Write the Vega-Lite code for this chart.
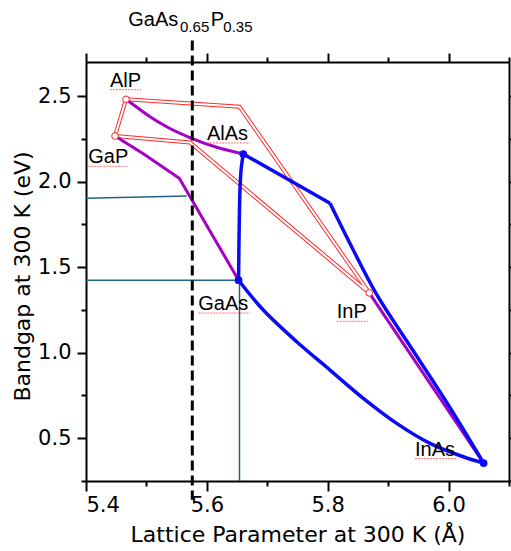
{
  "$schema": "https://vega.github.io/schema/vega-lite/v6.json",
  "width": 423,
  "height": 419,
  "autosize": {"type": "none"},
  "padding": {"left": 86, "top": 62, "right": 2, "bottom": 70},
  "background": "white",
  "datasets": {
    "redEdges": [
      {"s": "top", "i": 0, "a": 5.4662, "eg": 2.482},
      {"s": "top", "i": 1, "a": 5.654, "eg": 2.4386},
      {"s": "top", "i": 2, "a": 5.8687, "eg": 1.35},
      {"s": "low", "i": 0, "a": 5.448, "eg": 2.2673},
      {"s": "low", "i": 1, "a": 5.5721, "eg": 2.2292},
      {"s": "low", "i": 2, "a": 5.8687, "eg": 1.35},
      {"s": "left", "i": 0, "a": 5.4662, "eg": 2.482},
      {"s": "left", "i": 1, "a": 5.448, "eg": 2.2673}
    ],
    "labels": [
      {"t": "AlP", "a": 5.4397, "a2": 5.491, "eg": 2.5556},
      {"t": "GaP", "a": 5.4038, "a2": 5.4699, "eg": 2.1076},
      {"t": "AlAs", "a": 5.6002, "a2": 5.6714, "eg": 2.2439},
      {"t": "GaAs", "a": 5.5858, "a2": 5.6714, "eg": 1.2497},
      {"t": "InP", "a": 5.8149, "a2": 5.8671, "eg": 1.2012},
      {"t": "InAs", "a": 5.9444, "a2": 6.0134, "eg": 0.3982}
    ]
  },
  "layer": [
    {
      "layer": [
        {
          "data": {"name": "redEdges"},
          "mark": {"type": "line", "color": "#ff2a2a", "strokeWidth": 4},
          "encoding": {
            "x": {
              "field": "a", "type": "quantitative",
              "scale": {"domain": [5.4, 6.1], "nice": false, "zero": false},
              "axis": {
                "orient": "bottom",
                "values": [5.4, 5.5, 5.6, 5.7, 5.8, 5.9, 6.0, 6.1],
                "labelExpr": "round(datum.value*10)%2==0 ? format(datum.value,'.1f') : ''",
                "tickSize": {"condition": {"test": "round(datum.value*10)%2==0", "value": 10}, "value": 5},
                "labelPadding": 3,
                "title": "Lattice Parameter at 300 K (Å)",
                "titleBaseline": "alphabetic",
                "titleY": 60,
                "grid": false
              }
            },
            "y": {
              "field": "eg", "type": "quantitative",
              "scale": {"domain": [0.25, 2.7], "nice": false, "zero": false},
              "axis": {
                "orient": "left",
                "values": [0.25, 0.5, 0.75, 1.0, 1.25, 1.5, 1.75, 2.0, 2.25, 2.5],
                "labelExpr": "round(datum.value*4)%2==0 ? format(datum.value,'.1f') : ''",
                "tickSize": {"condition": {"test": "round(datum.value*4)%2==0", "value": 9}, "value": 5},
                "labelPadding": 6,
                "title": "Bandgap at 300 K (eV)",
                "titleBaseline": "alphabetic",
                "titleX": -57,
                "titleY": 214,
                "grid": false
              }
            },
            "detail": {"field": "s"},
            "order": {"field": "i", "type": "quantitative"}
          }
        },
        {
          "data": {"name": "redEdges"},
          "mark": {"type": "line", "color": "white", "strokeWidth": 2},
          "encoding": {
            "x": {"field": "a", "type": "quantitative"},
            "y": {"field": "eg", "type": "quantitative"},
            "detail": {"field": "s"},
            "order": {"field": "i", "type": "quantitative"}
          }
        },
        {
          "data": {"values": [
            {"s": "h1", "i": 0, "a": 5.4, "eg": 1.903},
            {"s": "h1", "i": 1, "a": 5.5666, "eg": 1.9164},
            {"s": "h2", "i": 0, "a": 5.4, "eg": 1.424},
            {"s": "h2", "i": 1, "a": 5.6525, "eg": 1.424},
            {"s": "v", "i": 0, "a": 5.654, "eg": 1.424},
            {"s": "v", "i": 1, "a": 5.654, "eg": 0.25}
          ]},
          "mark": {"type": "line", "color": "#1f6485", "strokeWidth": 1.5},
          "encoding": {
            "x": {"field": "a", "type": "quantitative"},
            "y": {"field": "eg", "type": "quantitative"},
            "detail": {"field": "s"},
            "order": {"field": "i", "type": "quantitative"}
          }
        },
        {
          "data": {"values": [
            {"s": "GaP-GaAs", "i": 0, "a": 5.448, "eg": 2.2673},
            {"s": "GaP-GaAs", "i": 1, "a": 5.4948, "eg": 2.163},
            {"s": "GaP-GaAs", "i": 2, "a": 5.5544, "eg": 2.0199},
            {"s": "GaP-GaAs", "i": 3, "a": 5.6525, "eg": 1.424},
            {"s": "InP-InAs", "i": 0, "a": 5.8687, "eg": 1.35},
            {"s": "InP-InAs", "i": 1, "a": 6.058, "eg": 0.355}
          ]},
          "mark": {"type": "line", "color": "#a400c8", "strokeWidth": 3},
          "encoding": {
            "x": {"field": "a", "type": "quantitative"},
            "y": {"field": "eg", "type": "quantitative"},
            "detail": {"field": "s"},
            "order": {"field": "i", "type": "quantitative"}
          }
        },
        {
          "data": {"values": [
            {"s": "AlP-AlAs", "i": 0, "a": 5.4662, "eg": 2.482},
            {"s": "AlP-AlAs", "i": 1, "a": 5.4717, "eg": 2.4678},
            {"s": "AlP-AlAs", "i": 2, "a": 5.5059, "eg": 2.38},
            {"s": "AlP-AlAs", "i": 3, "a": 5.5335, "eg": 2.3216},
            {"s": "AlP-AlAs", "i": 4, "a": 5.5749, "eg": 2.2538},
            {"s": "AlP-AlAs", "i": 5, "a": 5.6163, "eg": 2.2012},
            {"s": "AlP-AlAs", "i": 6, "a": 5.6603, "eg": 2.162}
          ]},
          "mark": {"type": "line", "color": "#a400c8", "strokeWidth": 3, "interpolate": "monotone"},
          "encoding": {
            "x": {"field": "a", "type": "quantitative"},
            "y": {"field": "eg", "type": "quantitative"},
            "detail": {"field": "s"},
            "order": {"field": "i", "type": "quantitative"}
          }
        },
        {
          "data": {"values": [
            {"s": "AlAs-kink", "i": 0, "a": 5.6603, "eg": 2.162},
            {"s": "AlAs-kink", "i": 1, "a": 5.8038, "eg": 1.8737}
          ]},
          "mark": {"type": "line", "color": "#0a0af5", "strokeWidth": 3.5},
          "encoding": {
            "x": {"field": "a", "type": "quantitative"},
            "y": {"field": "eg", "type": "quantitative"},
            "detail": {"field": "s"},
            "order": {"field": "i", "type": "quantitative"}
          }
        },
        {
          "data": {"values": [
            {"s": "AlAs-GaAs", "i": 0, "a": 5.6603, "eg": 2.162},
            {"s": "AlAs-GaAs", "i": 1, "a": 5.6568, "eg": 2.075},
            {"s": "AlAs-GaAs", "i": 2, "a": 5.6548, "eg": 1.95},
            {"s": "AlAs-GaAs", "i": 3, "a": 5.6533, "eg": 1.68},
            {"s": "AlAs-GaAs", "i": 4, "a": 5.6525, "eg": 1.424},
            {"s": "kink-InAs", "i": 0, "a": 5.8038, "eg": 1.8737},
            {"s": "kink-InAs", "i": 1, "a": 5.8423, "eg": 1.6006},
            {"s": "kink-InAs", "i": 2, "a": 5.8807, "eg": 1.343},
            {"s": "kink-InAs", "i": 3, "a": 5.9436, "eg": 1.0},
            {"s": "kink-InAs", "i": 4, "a": 5.9985, "eg": 0.7},
            {"s": "kink-InAs", "i": 5, "a": 6.058, "eg": 0.355},
            {"s": "GaAs-InAs", "i": 0, "a": 5.6525, "eg": 1.424},
            {"s": "GaAs-InAs", "i": 1, "a": 5.6934, "eg": 1.2497},
            {"s": "GaAs-InAs", "i": 2, "a": 5.7487, "eg": 1.0643},
            {"s": "GaAs-InAs", "i": 3, "a": 5.8038, "eg": 0.8988},
            {"s": "GaAs-InAs", "i": 4, "a": 5.8589, "eg": 0.7333},
            {"s": "GaAs-InAs", "i": 5, "a": 5.9141, "eg": 0.5871},
            {"s": "GaAs-InAs", "i": 6, "a": 5.9692, "eg": 0.4702},
            {"s": "GaAs-InAs", "i": 7, "a": 6.0244, "eg": 0.3918},
            {"s": "GaAs-InAs", "i": 8, "a": 6.058, "eg": 0.355}
          ]},
          "mark": {"type": "line", "color": "#0a0af5", "strokeWidth": 3.5, "interpolate": "catmull-rom"},
          "encoding": {
            "x": {"field": "a", "type": "quantitative"},
            "y": {"field": "eg", "type": "quantitative"},
            "detail": {"field": "s"},
            "order": {"field": "i", "type": "quantitative"}
          }
        },
        {
          "data": {"values": [{"a": 5.5759, "top": 2.826, "bottom": 0.14}]},
          "mark": {"type": "rule", "color": "black", "strokeWidth": 3, "strokeDash": [10, 5]},
          "encoding": {
            "x": {"field": "a", "type": "quantitative"},
            "y": {"field": "top", "type": "quantitative"},
            "y2": {"field": "bottom"}
          }
        },
        {
          "data": {"values": [
            {"c": "AlP", "a": 5.4662, "eg": 2.482},
            {"c": "GaP", "a": 5.448, "eg": 2.2673},
            {"c": "InP", "a": 5.8687, "eg": 1.35}
          ]},
          "mark": {"type": "point", "shape": "circle", "filled": true, "fill": "white", "stroke": "#ff2a2a", "strokeWidth": 1, "size": 45, "opacity": 1},
          "encoding": {
            "x": {"field": "a", "type": "quantitative"},
            "y": {"field": "eg", "type": "quantitative"}
          }
        },
        {
          "data": {"values": [
            {"c": "AlAs", "a": 5.6603, "eg": 2.162},
            {"c": "GaAs", "a": 5.6525, "eg": 1.424},
            {"c": "InAs", "a": 6.058, "eg": 0.355}
          ]},
          "mark": {"type": "point", "shape": "circle", "filled": true, "color": "#0a0af5", "size": 60, "opacity": 1},
          "encoding": {
            "x": {"field": "a", "type": "quantitative"},
            "y": {"field": "eg", "type": "quantitative"}
          }
        },
        {
          "data": {"name": "labels"},
          "mark": {"type": "rule", "color": "#ff4a4a", "strokeWidth": 1, "strokeDash": [2, 1], "yOffset": 3, "opacity": 0.8},
          "encoding": {
            "x": {"field": "a", "type": "quantitative"},
            "x2": {"field": "a2"},
            "y": {"field": "eg", "type": "quantitative"}
          }
        },
        {
          "data": {"name": "labels"},
          "mark": {"type": "text", "align": "left", "baseline": "alphabetic", "font": "Liberation Sans", "fontSize": 20, "color": "black"},
          "encoding": {
            "x": {"field": "a", "type": "quantitative"},
            "y": {"field": "eg", "type": "quantitative"},
            "text": {"field": "t"}
          }
        },
        {
          "data": {"values": [
            {"t": "GaAs", "a": 5.47, "eg": 2.9105},
            {"t": "P", "a": 5.6064, "eg": 2.9105}
          ]},
          "mark": {"type": "text", "align": "left", "baseline": "alphabetic", "font": "Liberation Sans", "fontSize": 20, "color": "black"},
          "encoding": {
            "x": {"field": "a", "type": "quantitative"},
            "y": {"field": "eg", "type": "quantitative"},
            "text": {"field": "t"}
          }
        },
        {
          "data": {"values": [
            {"t": "0.65", "a": 5.5556, "eg": 2.8772},
            {"t": "0.35", "a": 5.6272, "eg": 2.8772}
          ]},
          "mark": {"type": "text", "align": "left", "baseline": "alphabetic", "font": "Liberation Sans", "fontSize": 15, "color": "black"},
          "encoding": {
            "x": {"field": "a", "type": "quantitative"},
            "y": {"field": "eg", "type": "quantitative"},
            "text": {"field": "t"}
          }
        }
      ]
    },
    {
      "data": {"values": [{"a": 5.5, "eg": 1.0}]},
      "mark": {"type": "point", "opacity": 0},
      "encoding": {
        "x": {
          "field": "a", "type": "quantitative",
          "axis": {
            "orient": "top",
            "values": [5.4, 5.5, 5.6, 5.7, 5.8, 5.9, 6.0, 6.1],
            "labels": false,
            "title": null,
            "tickSize": {"condition": {"test": "round(datum.value*10)%2==0", "value": 9}, "value": 5},
            "grid": false
          }
        },
        "y": {
          "field": "eg", "type": "quantitative",
          "axis": {
            "orient": "right",
            "values": [0.25, 0.5, 0.75, 1.0, 1.25, 1.5, 1.75, 2.0, 2.25, 2.5],
            "labels": false,
            "title": null,
            "tickSize": {"condition": {"test": "round(datum.value*4)%2==0", "value": 9}, "value": 5},
            "grid": false
          }
        }
      }
    }
  ],
  "resolve": {"axis": {"x": "independent", "y": "independent"}},
  "config": {
    "view": {"stroke": null},
    "axis": {
      "domainColor": "black",
      "domainWidth": 2,
      "tickColor": "black",
      "tickWidth": 2,
      "labelFont": "DejaVu Sans",
      "labelFontSize": 21,
      "labelColor": "black",
      "titleFont": "DejaVu Sans",
      "titleFontSize": 22,
      "titleFontWeight": "normal",
      "titleColor": "black"
    }
  }
}
